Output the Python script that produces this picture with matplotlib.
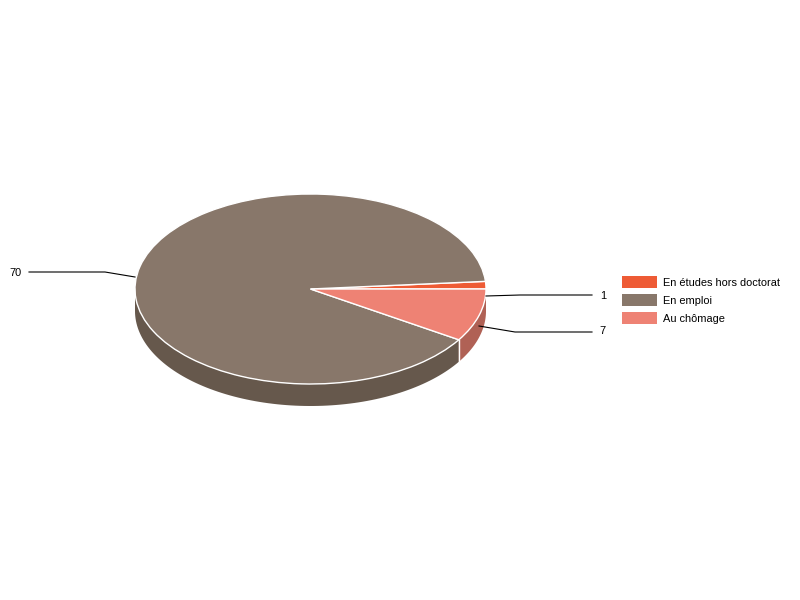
import numpy as np
import matplotlib
matplotlib.use("Agg")
import matplotlib.pyplot as plt
from matplotlib.patches import Rectangle

plt.rcParams['font.family'] = ['Liberation Sans', 'DejaVu Sans']

categories = ["En études hors doctorat", "En emploi", "Au chômage"]
values = [1, 70, 7]
colors = ["#ee5b35", "#88776a", "#ee8274"]
side_colors = ["#a83f24", "#66584c", "#b06155"]

# pie geometry in pixels
cx, cy = 310.5, 289
rx, ry = 175.5, 95
depth = 22
squash = ry / rx

# leader lines in pixels, one per slice
leaders = [
    [(486, 296), (520, 295), (592, 295)],
    [(135, 277), (105, 272), (29, 272)],
    [(479, 326), (515, 332), (592, 332)],
]
label_pos = [(600, 296), (16, 272.5), (602.5, 331.5)]
label_ha = ["left", "center", "center"]


def px(x, y):
    # pixel position to data coords, y squashed so a circle draws as the ellipse
    return x, (600 - y) / squash


fig = plt.figure(figsize=(8, 6), dpi=100)
ax = fig.add_axes([0, 0, 1, 1])

edges = np.cumsum([0] + values) / sum(values) * 360

# side wall, only the front half shows
for i in range(len(values)):
    a0 = max(edges[i], 180)
    a1 = edges[i + 1]
    if a1 <= a0:
        continue
    t = np.radians(np.linspace(a0, a1, 100))
    xs = cx + rx * np.cos(t)
    ys = cy - ry * np.sin(t)
    px_x = np.concatenate([xs, xs[::-1]])
    px_y = np.concatenate([ys, ys[::-1] + depth])
    dx, dy = px(px_x, px_y)
    ax.fill(dx, dy, color=side_colors[i], lw=0, zorder=1)
    # white seam where two slices meet on the wall
    if a0 > 180:
        sx, sy = px(np.array([xs[0], xs[0]]), np.array([ys[0], ys[0] + depth]))
        ax.plot(sx, sy, color="white", lw=1, zorder=2)

ax.pie(values, colors=colors, startangle=0, counterclock=True,
       center=px(cx, cy), radius=rx,
       wedgeprops=dict(edgecolor="white", linewidth=1, zorder=3))
ax.set_aspect('auto')
ax.set_xlim(0, 800)
ax.set_ylim(0, 600 / squash)
ax.axis('off')

for i, v in enumerate(values):
    lx, ly = zip(*leaders[i])
    dx, dy = px(np.array(lx), np.array(ly))
    ax.plot(dx, dy, color="black", lw=0.8, zorder=4)
    tx, ty = px(*label_pos[i])
    ax.text(tx, ty, str(v), fontsize=7.9, ha=label_ha[i], va="center", color="black")

# legend
for i, name in enumerate(categories):
    top = 276 + 18 * i
    x0, y0 = px(622, top + 11.5)
    ax.add_patch(Rectangle((x0, y0), 35, 11.5 / squash, facecolor=colors[i], edgecolor="none"))
    tx, ty = px(663, top + 7)
    ax.text(tx, ty, name, fontsize=7.9, ha="left", va="center", color="black")

fig.savefig("out.png", dpi=100)
